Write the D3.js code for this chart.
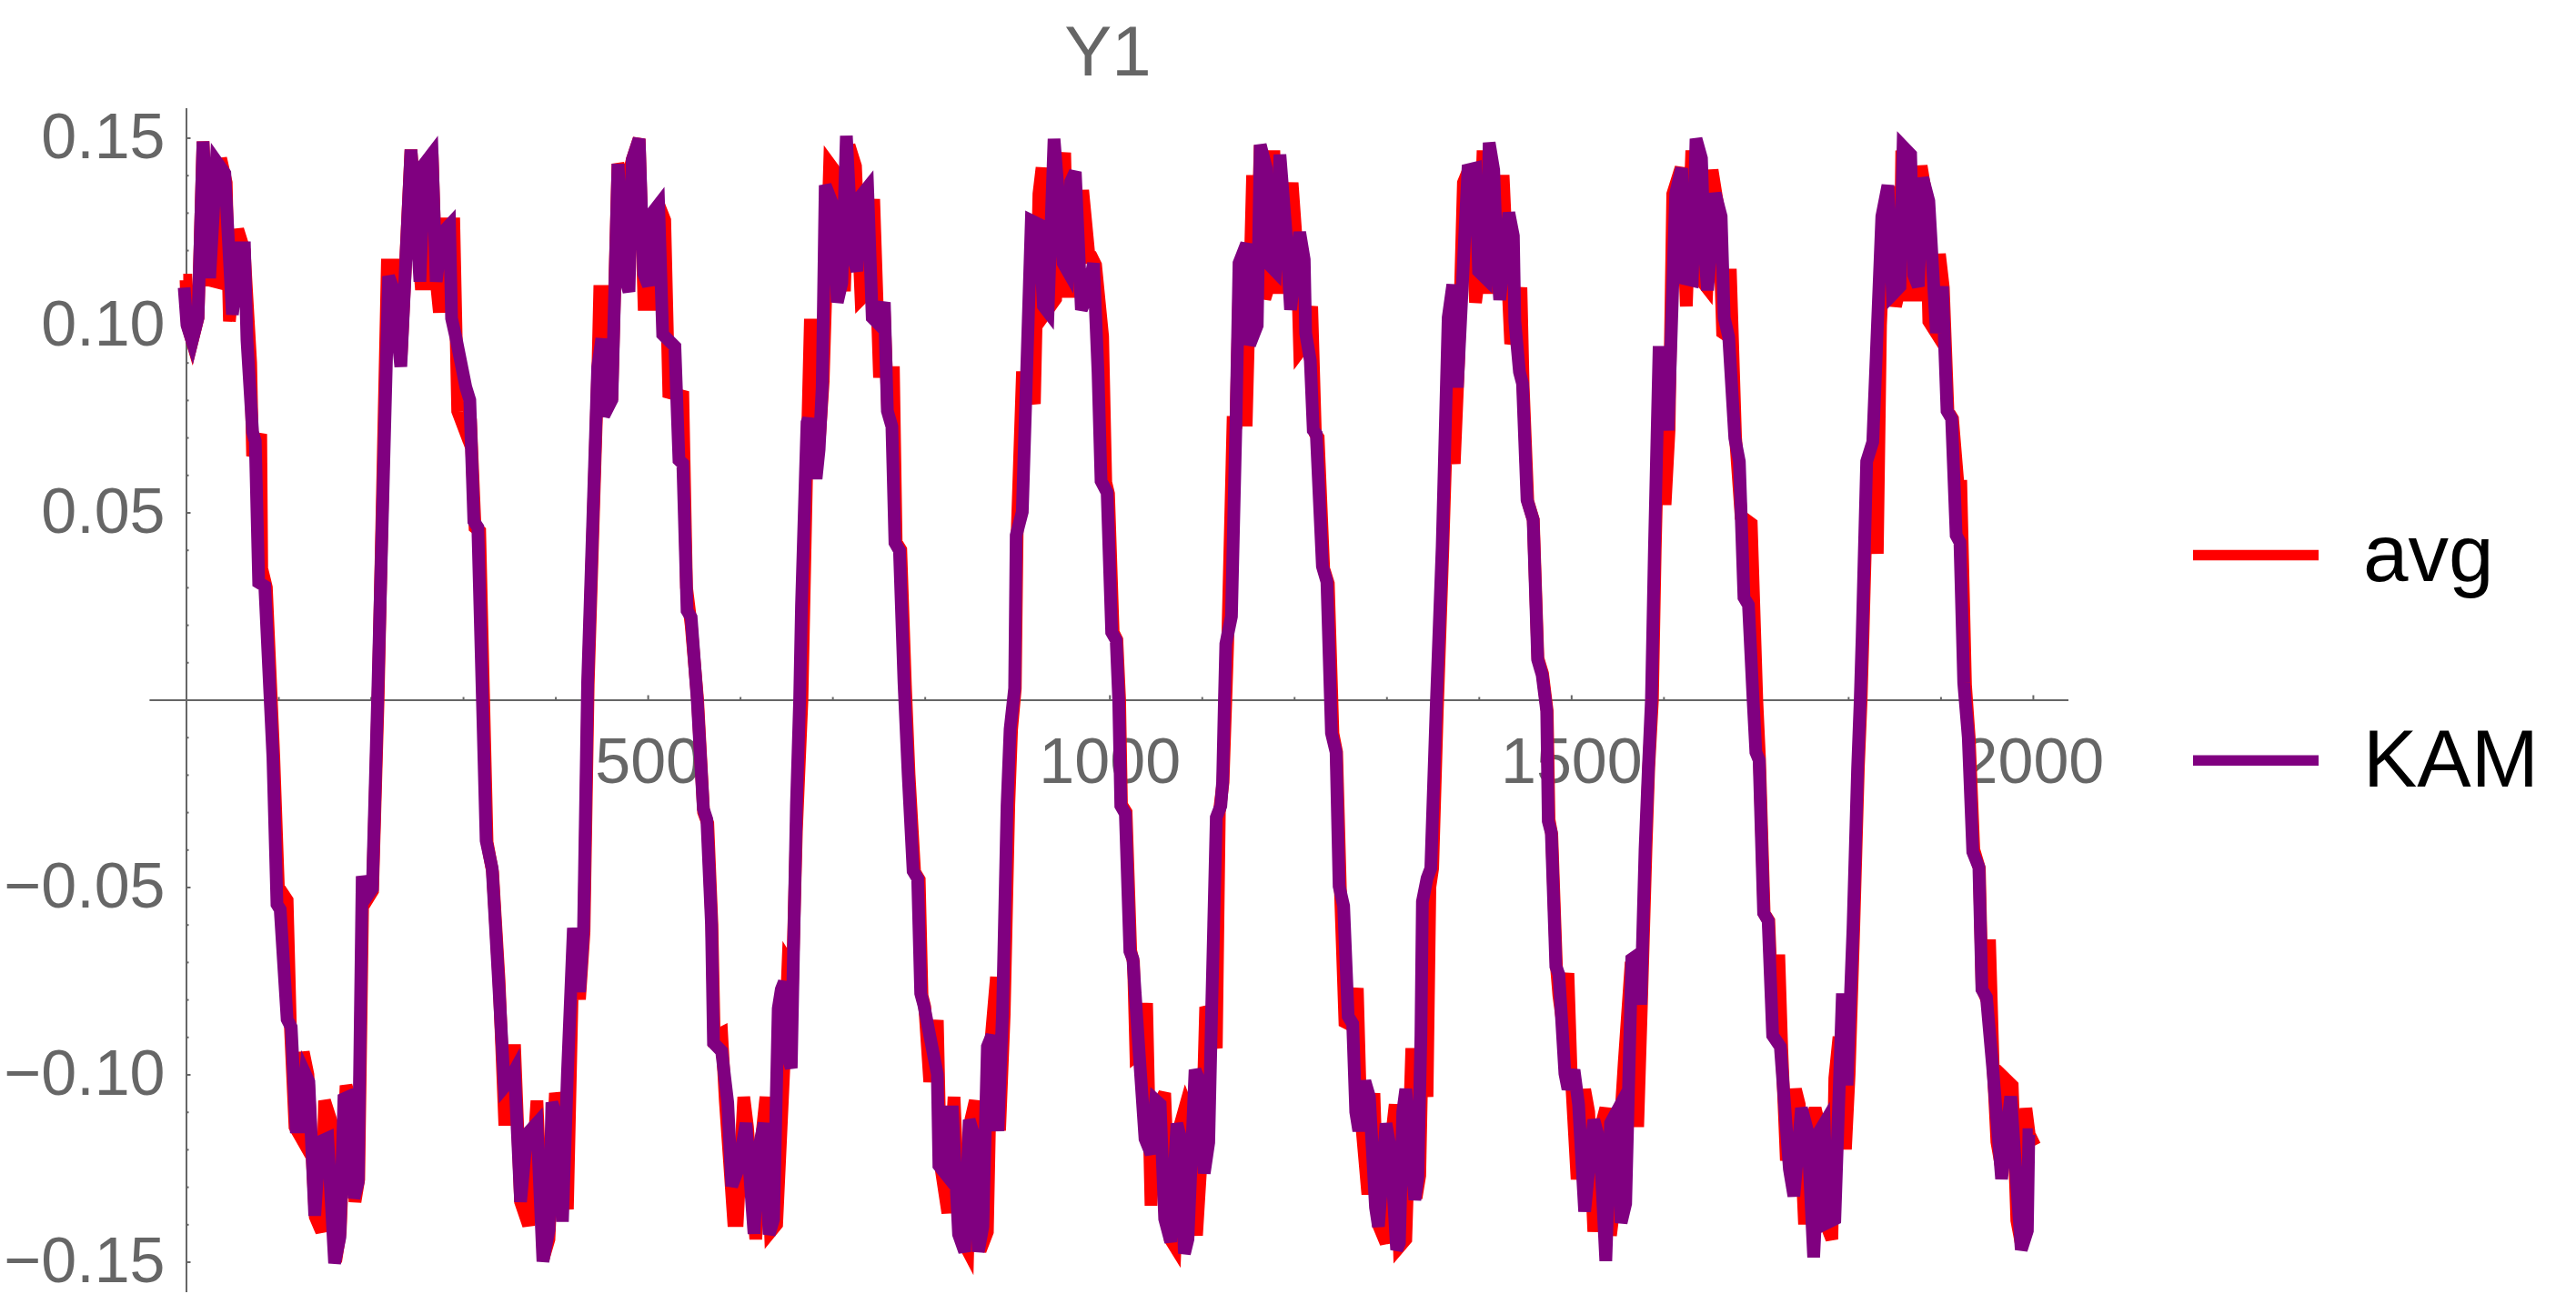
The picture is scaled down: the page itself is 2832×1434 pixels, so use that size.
<!DOCTYPE html>
<html><head><meta charset="utf-8">
<script src="https://cdn.jsdelivr.net/npm/d3@7"></script>
<style>
body{margin:0;background:#fff}
svg{display:block}
text{font-family:"Liberation Sans",Arial,Helvetica,sans-serif}
</style>
</head><body>
<svg id="chart" width="2832" height="1434"></svg>
<script>
const chartTitle = "Y1";
const seriesNames = ["avg", "KAM"];
const seriesColors = ["#ff0000", "#800080"];
const xMajorTicks = [500, 1000, 1500, 2000];
const xMinorTicks = [100,200,300,400,600,700,800,900,1100,1200,1300,1400,1600,1700,1800,1900];
const yMajorTicks = [-0.15, -0.10, -0.05, 0.05, 0.10, 0.15];
const yMinorTicks = [-0.14,-0.13,-0.12,-0.11,-0.09,-0.08,-0.07,-0.06,-0.04,-0.03,-0.02,-0.01,
                     0.01,0.02,0.03,0.04,0.06,0.07,0.08,0.09,0.11,0.12,0.13,0.14];

// avg series: [x, value]
const avgPoints = [
[-3,0.112],[0,0.112],[1.5,0.100],[6.6,0.0957],[13,0.102],[18.4,0.149],[25,0.112],[33,0.1115],[37.5,0.1445],[43.5,0.138],[47,0.101],[56,0.1255],[63,0.120],[70,0.090],[72.1,0.065],[80.9,0.0709],[82,0.035],[87,0.030],[95,-0.015],[100,-0.050],[109.5,-0.0535],[113,-0.087],[118,-0.114],[124.9,-0.117],[127,-0.094],[132,-0.100],[140,-0.138],[146.9,-0.142],[150,-0.107],[157.9,-0.113],[162,-0.150],[167,-0.142],[173.3,-0.103],[177,-0.106],[183,-0.134],[187,-0.128],[191.5,-0.050],[197,-0.053],[202,-0.051],[208,0.000],
[218,0.116],[228.2,0.116],[233,0.092],[243.6,0.1468],[250.2,0.125],[254.5,0.111],[261,0.111],[266.5,0.1457],[270.9,0.112],[274.4,0.1034],[281,0.127],[290,0.127],[294.2,0.077],[305,0.070],[308,0.075],[313,0.046],[318,0.045],[322,0.003],
[326,-0.038],[332,-0.046],[339,-0.075],[345,-0.112],[351,-0.112],[355.7,-0.092],[362.3,-0.134],[371,-0.1403],[380,-0.107],[387,-0.149],[393,-0.144],[400,-0.105],[405,-0.110],[413,-0.136],[419.5,-0.063],[426.1,-0.080],[431,-0.062],[435.5,0.004],
[446,0.088],[448,0.109],[457,0.109],[461,0.080],[467.8,0.143],[472,0.140],[479,0.140],[483.2,0.1441],[490.7,0.1497],[496,0.1055],[505,0.1055],[512,0.132],[518.4,0.128],[522.8,0.082],[538,0.081],[542,0.030],[547,0.020],[554,0.000],
[560.5,-0.030],[565,-0.033],[569.5,-0.060],[572,-0.090],[580,-0.089],[584,-0.107],[593,-0.139],[597,-0.139],[604,-0.106],[608,-0.114],[617,-0.144],[622,-0.120],[628,-0.106],[633,-0.142],[639.6,-0.140],[648,-0.095],[652,-0.070],[657,-0.072],[661,-0.035],[667,0.000],
[672,0.060],[676,0.100],[682,0.100],[686,0.070],[690,0.085],[697,0.143],[706,0.140],[713,0.109],[718,0.148],[725,0.1424],[731,0.107],[735,0.108],[744.7,0.1336],[751,0.086],[756,0.104],[760,0.077],[766,0.089],[769,0.042],[774,0.040],[779,0.004],
[783,-0.020],[789,-0.046],[794,-0.048],[797,-0.079],[800,-0.082],[805.4,-0.102],[813.6,-0.0855],[817,-0.124],[825,-0.137],[831.7,-0.106],[838,-0.143],[846.5,-0.147],[850,-0.112],[854.7,-0.107],[860,-0.147],[867.8,-0.142],[872,-0.090],[877.6,-0.074],[881,-0.115],[886,-0.084],[891,-0.028],[894,-0.008],[898,0.003],
[900,0.044],[905.6,0.086],[912,0.086],[918.7,0.079],[923.6,0.135],[927,0.142],[933,0.104],[941.7,0.107],[945,0.134],[951.5,0.146],[955,0.109],[963,0.109],[971,0.136],[978,0.118],[981,0.118],[985,0.116],[992.6,0.097],[996,0.058],[999,0.055],[1004,0.018],[1008,0.016],[1011,0.000],
[1013,-0.028],[1018,-0.030],[1023,-0.067],[1026,-0.070],[1028.7,-0.095],[1034,-0.094],[1040.2,-0.081],[1045,-0.135],[1050,-0.110],[1059.8,-0.105],[1066,-0.144],[1071,-0.146],[1076,-0.114],[1082.8,-0.108],[1086,-0.110],[1094.3,-0.143],[1100,-0.120],[1104.2,-0.082],[1110,-0.085],[1115.7,-0.093],[1119,-0.030],[1123,-0.022],[1126,0.000],
[1128,0.015],[1133.8,0.074],[1137,0.074],[1141,0.116],[1143,0.117],[1148,0.073],[1155,0.140],[1160,0.120],[1163.3,0.148],[1168.2,0.107],[1172,0.110],[1178,0.1466],[1183,0.110],[1188,0.110],[1197.8,0.138],[1203,0.120],[1206,0.093],[1212,0.095],[1219,0.105],[1223,0.071],[1226,0.070],[1232,0.035],[1237,0.031],[1242,-0.009],
[1246,-0.014],[1250,-0.050],[1255,-0.086],[1263,-0.087],[1268.4,-0.077],[1272,-0.110],[1279.8,-0.132],[1286.4,-0.105],[1291,-0.140],[1299.5,-0.145],[1304,-0.120],[1309.4,-0.108],[1314,-0.146],[1320.9,-0.144],[1327.4,-0.093],[1332,-0.133],[1336,-0.127],[1339,-0.090],[1343.9,-0.106],[1347,-0.050],[1350,-0.045],[1355,-0.003],
[1361,0.040],[1366,0.080],[1373.4,0.063],[1378,0.090],[1383.3,0.138],[1390,0.142],[1396.4,0.106],[1400,0.113],[1404.6,0.1466],[1409,0.110],[1416,0.110],[1420,0.118],[1426.3,0.140],[1434.5,0.095],[1440,0.100],[1445.6,0.110],[1448,0.084],[1453,0.053],[1459,0.048],[1464,0.011],[1469,0.007],[1474,-0.003],
[1476,-0.032],[1479,-0.036],[1484,-0.071],[1486.7,-0.079],[1490,-0.085],[1496.5,-0.073],[1500,-0.100],[1506.4,-0.128],[1514.6,-0.104],[1519,-0.110],[1524.5,-0.142],[1531,-0.115],[1537.5,-0.109],[1542.6,-0.143],[1549,-0.130],[1557.4,-0.097],[1565,-0.070],[1572,-0.114],[1576,-0.082],[1581,-0.040],[1584,-0.018],[1588,0.000],
[1591,0.040],[1596,0.092],[1600,0.090],[1601.7,0.052],[1606,0.072],[1610,0.135],[1619,0.142],[1624.7,0.105],[1630.6,0.1466],[1639.4,0.1124],[1647,0.110],[1652.6,0.1414],[1660,0.130],[1664,0.098],[1670,0.097],[1672.3,0.115],[1678,0.070],[1684,0.049],[1695,0.047],[1701,0.000],[1704,-0.016],
[1709,-0.057],[1714,-0.059],[1719,-0.090],[1724.8,-0.068],[1728,-0.093],[1733,-0.123],[1742.9,-0.104],[1747,-0.108],[1752.7,-0.140],[1757,-0.116],[1764.2,-0.109],[1770,-0.115],[1776,-0.140],[1782.3,-0.144],[1785.5,-0.101],[1790,-0.090],[1797,-0.120],[1801,-0.100],[1806,-0.061],[1811,-0.018],[1814,0.000],
[1816,0.017],[1821,0.063],[1826,0.068],[1831.5,0.039],[1835,0.100],[1840,0.130],[1844,0.137],[1851.2,0.105],[1856,0.110],[1858,0.1466],[1866,0.108],[1874,0.108],[1879,0.1425],[1884,0.135],[1887.3,0.101],[1895,0.098],[1898.8,0.119],[1903,0.110],[1908,0.077],[1913,0.075],[1919,0.057],[1922,0.057],[1927,0.004],
[1931,-0.010],[1936,-0.040],[1942,-0.045],[1945,-0.077],[1950,-0.080],[1953,-0.064],[1957,-0.098],[1961,-0.118],[1966,-0.125],[1969.4,-0.101],[1977.6,-0.103],[1982.6,-0.139],[1988,-0.146],[1992.4,-0.109],[1996,-0.116],[2002,-0.119]
];

// KAM series: [x, value]
const kamPoints = [
[-2,0.110],[1,0.100],[6.6,0.0957],[13,0.102],[18.4,0.149],[25.6,0.1125],[32.8,0.1437],[42,0.1405],[50.2,0.1028],[58.4,0.1206],[63.3,0.1206],[66,0.096],[72.1,0.0714],[75,0.069],[78.7,0.0313],[85.3,0.0303],[94.1,-0.0154],[98.5,-0.0546],[102,-0.056],[109.5,-0.0853],[113.9,-0.0874],[119.2,-0.114],[124,-0.114],[129.3,-0.100],[133,-0.102],[139.4,-0.1377],[144.7,-0.118],[153.5,-0.117],[160.9,-0.1504],[166.6,-0.1435],[171,-0.1065],[175.5,-0.106],[182,-0.133],[186.4,-0.1287],[190.8,-0.0471],[196,-0.0524],[201.8,-0.0504],[207.5,0.0005],
[219.4,0.113],[224,0.110],[232.6,0.0889],[243.6,0.1468],[250.2,0.1246],[253.3,0.1116],[258.1,0.143],[266.5,0.1457],[270.9,0.1116],[277.5,0.1246],[285.4,0.1267],[287.6,0.1018],[292,0.097],[303,0.0834],[307.3,0.080],[311.7,0.0476],[316,0.046],[320.5,0.0043],
[325,-0.0376],[331.5,-0.045],[338.1,-0.0736],[344.7,-0.1033],[349,-0.102],[355.7,-0.099],[362.3,-0.134],[369,-0.116],[380,-0.113],[386.5,-0.1499],[393.1,-0.1414],[396.2,-0.1075],[401.9,-0.1117],[407.6,-0.1393],[413,-0.100],[419.5,-0.0609],[426.1,-0.078],[430.5,-0.0609],[434.9,0.0047],
[445.8,0.0888],[450.3,0.0964],[452.4,0.0758],[461.2,0.0801],[467.8,0.143],[474.4,0.1137],[479.7,0.1089],[483.2,0.1441],[490.7,0.1497],[495.5,0.1137],[500.8,0.1105],[505.2,0.130],[511.8,0.1321],[516.2,0.0975],[529.4,0.0943],[533.8,0.064],[538,0.063],[542.6,0.0238],[547,0.022],[553.6,0.000],
[560.2,-0.0291],[564,-0.032],[569,-0.0599],[571.2,-0.0916],[580,-0.0938],[586.6,-0.1075],[591,-0.1298],[597.5,-0.1255],[606.4,-0.113],[615.1,-0.1425],[620,-0.120],[626,-0.113],[631.4,-0.1427],[636.3,-0.1386],[641.3,-0.0824],[644.6,-0.0773],[647.8,-0.0753],[651.1,-0.0947],[655.4,-0.0983],[657.7,-0.0692],[661,-0.0283],[664.5,0.000],
[666.5,0.025],[670.8,0.0605],[672.5,0.074],[674.1,0.075],[682.3,0.059],[685.6,0.0668],[688.9,0.0833],[692.2,0.1373],[700.4,0.1321],[705.3,0.1061],[710.2,0.1113],[715.1,0.1505],[721.7,0.1186],[726.6,0.1144],[729.9,0.1342],[738.1,0.1367],[743.1,0.102],[749.6,0.1004],[756.2,0.1061],[759.5,0.0771],[764.4,0.0729],[767.7,0.0419],[772.6,0.0398],[777.5,0.0045],
[782,-0.020],[787.4,-0.0457],[792.3,-0.0477],[795.6,-0.0784],[798.9,-0.0814],[813.6,-0.100],[815.3,-0.1243],[821.8,-0.1263],[823.5,-0.110],[830,-0.110],[836.6,-0.1427],[843.2,-0.1473],[848.1,-0.1121],[853,-0.1161],[858,-0.1473],[862.9,-0.1406],[867.8,-0.0926],[872.7,-0.0896],[879.3,-0.1151],[884.2,-0.0835],[889.1,-0.0283],[892.4,-0.0079],[897.3,0.003],
[899,0.0439],[905.6,0.0501],[910,0.085],[915.4,0.1279],[923.6,0.1269],[928.5,0.1051],[933.5,0.1035],[940,0.1497],[945,0.1342],[949.9,0.1165],[954.8,0.1144],[958.1,0.1383],[963,0.1409],[969.6,0.1041],[976,0.108],[982.7,0.1165],[987.6,0.0875],[990.9,0.0584],[997.5,0.0553],[1002.4,0.018],[1007.3,0.0159],[1010,0.000],
[1012.3,-0.0283],[1017.2,-0.0304],[1022.1,-0.0671],[1025.4,-0.0692],[1032,-0.0937],[1038.5,-0.1172],[1045.1,-0.1212],[1050,-0.1069],[1054.9,-0.108],[1059.8,-0.1386],[1066.4,-0.1447],[1073,-0.1131],[1076,-0.116],[1081.2,-0.1478],[1085,-0.144],[1092.7,-0.0988],[1097.6,-0.1018],[1102.6,-0.1264],[1107.5,-0.1182],[1110.8,-0.0814],[1115.7,-0.0314],[1120.6,-0.0283],[1122.5,-0.022],[1124.5,0.000],
[1126,0.0149],[1132.1,0.0222],[1137,0.074],[1140.3,0.1165],[1148.5,0.1217],[1151.8,0.0947],[1160,0.0999],[1163.3,0.1481],[1169.9,0.1419],[1171.5,0.1165],[1179.7,0.1144],[1184.6,0.1455],[1191.2,0.1248],[1196.1,0.1041],[1206,0.1248],[1210.9,0.1175],[1212.5,0.0978],[1217.5,0.0906],[1220.7,0.0719],[1224,0.0709],[1230.6,0.0356],[1235.5,0.0315],[1240.4,-0.0089],
[1245.4,-0.014],[1248.7,-0.0498],[1253.6,-0.055],[1258.5,-0.0845],[1263.4,-0.0865],[1266.7,-0.110],[1270,-0.1151],[1276.6,-0.1018],[1281.5,-0.1059],[1288.1,-0.1355],[1291.3,-0.1406],[1299.5,-0.1131],[1304.5,-0.1202],[1311,-0.1468],[1314,-0.145],[1317.6,-0.110],[1320.9,-0.1039],[1330.7,-0.1335],[1334,-0.1274],[1337.3,-0.0896],[1338.9,-0.0539],[1343.9,-0.0477],[1348,-0.045],[1353.7,-0.0028],
[1360.3,0.0408],[1366.8,0.102],[1371.8,0.1108],[1376.7,0.0833],[1382,0.110],[1388.2,0.1414],[1396.4,0.1419],[1399.7,0.1144],[1407.9,0.1124],[1411.2,0.1487],[1416.1,0.1414],[1419.4,0.1186],[1422.6,0.1067],[1432.5,0.130],[1437.4,0.1238],[1439,0.101],[1444,0.0875],[1447.3,0.0844],[1452.2,0.0533],[1458.8,0.0481],[1463.7,0.0107],[1468.6,0.0066],[1473.5,-0.003],
[1475.2,-0.0324],[1478.5,-0.0355],[1483.4,-0.0712],[1486.7,-0.0733],[1493.2,-0.0998],[1496.5,-0.1039],[1503.1,-0.0988],[1508,-0.108],[1514.6,-0.1366],[1524.5,-0.1121],[1531,-0.118],[1537.5,-0.1498],[1542.6,-0.113],[1549.2,-0.110],[1554.1,-0.1396],[1559,-0.1345],[1565.6,-0.0692],[1572.1,-0.0681],[1575.4,-0.0814],[1580,-0.040],[1583.6,-0.0181],[1586.9,0.000],
[1590.2,0.0408],[1595.1,0.0927],[1600,0.0927],[1605,0.0719],[1613.2,0.1352],[1619.7,0.1419],[1623,0.1124],[1631.2,0.1119],[1635.2,0.1497],[1641.1,0.1445],[1644.4,0.1196],[1647.7,0.1093],[1655.9,0.1352],[1662.4,0.129],[1665.7,0.102],[1670.6,0.0968],[1677.2,0.0698],[1682.1,0.0636],[1687.1,0.0273],[1692,0.0253],[1697,0.000],[1700,-0.014],
[1703.5,-0.0161],[1708.4,-0.0569],[1713.3,-0.059],[1718.2,-0.0896],[1726.5,-0.0926],[1736.3,-0.1253],[1741.2,-0.1325],[1749.4,-0.109],[1756,-0.1151],[1762.6,-0.1488],[1769.1,-0.1151],[1774,-0.1131],[1777.3,-0.1396],[1785.5,-0.1386],[1793.7,-0.0784],[1798.7,-0.1029],[1805.2,-0.061],[1810.2,-0.0181],[1813,0.000],
[1815.1,0.017],[1820,0.0636],[1826.6,0.0688],[1836.4,0.129],[1843,0.1373],[1847.9,0.1082],[1856,0.1103],[1859.4,0.1476],[1867.6,0.1455],[1870.9,0.1134],[1875.9,0.1103],[1880.7,0.1393],[1887.3,0.1331],[1895.5,0.0979],[1902.1,0.1103],[1907,0.0771],[1912,0.075],[1916.9,0.0439],[1921,0.042],[1925.1,0.0045],
[1930,-0.010],[1934.9,-0.0406],[1941.5,-0.0447],[1944.8,-0.0773],[1949.7,-0.0794],[1956.3,-0.0977],[1966.1,-0.1279],[1976,-0.1059],[1987.4,-0.1468],[1994,-0.1417],[1995.6,-0.1161],[1999.9,-0.1161]
];

const seriesData = [avgPoints, kamPoints];

const svg = d3.select("#chart");
svg.append("rect").attr("width", 2832).attr("height", 1434).attr("fill", "#fff");

const x = d3.scaleLinear().domain([-40, 2038]).range([163.9, 2273.5]);
const y = d3.scaleLinear().domain([-0.158, 0.158]).range([1420.5, 118.5]);

const axisColor = "#666666";
const labelSize = 70;

function styleAxis(g) {
  g.attr("font-size", null).attr("font-family", null);
  g.selectAll("path.domain").attr("stroke", axisColor).attr("stroke-width", 2);
  g.selectAll(".tick line").attr("stroke", axisColor).attr("stroke-width", 2);
  g.selectAll(".tick text").attr("fill", axisColor).style("font-size", labelSize + "px");
}

// x axis
const gx = svg.append("g").attr("transform", `translate(0,${y(0)})`)
  .call(d3.axisBottom(x).tickValues(xMajorTicks).tickSize(-5).tickSizeOuter(0)
        .tickPadding(42).tickFormat(d3.format("d")));
styleAxis(gx);
const gxm = svg.append("g").attr("transform", `translate(0,${y(0)})`)
  .call(d3.axisBottom(x).tickValues(xMinorTicks).tickSize(-3).tickSizeOuter(0).tickFormat(""));
styleAxis(gxm);
gxm.select("path.domain").remove();

// y axis
const gy = svg.append("g").attr("transform", `translate(${x(0)},0)`)
  .call(d3.axisLeft(y).tickValues(yMajorTicks).tickSize(-5).tickSizeOuter(0)
        .tickPadding(23).tickFormat(d3.format(".2f")));
styleAxis(gy);
const gym = svg.append("g").attr("transform", `translate(${x(0)},0)`)
  .call(d3.axisLeft(y).tickValues(yMinorTicks).tickSize(-3).tickSizeOuter(0).tickFormat(""));
styleAxis(gym);
gym.select("path.domain").remove();

// lines
const line = d3.line().x(d => x(d[0])).y(d => y(d[1]));
seriesData.forEach((pts, i) => {
  svg.append("path").datum(pts)
    .attr("d", line)
    .attr("fill", "none")
    .attr("stroke", seriesColors[i])
    .attr("stroke-width", 14)
    .attr("stroke-linejoin", "miter")
    .attr("stroke-linecap", "butt");
});

// title
svg.append("text").attr("x", 1218).attr("y", 83).attr("text-anchor", "middle")
  .attr("fill", axisColor).style("font-size", "78px").text(chartTitle);

// legend
const legendY = [610.6, 836.3];
seriesNames.forEach((name, i) => {
  svg.append("line").attr("x1", 2411).attr("x2", 2549)
    .attr("y1", legendY[i]).attr("y2", legendY[i])
    .attr("stroke", seriesColors[i]).attr("stroke-width", 11.5);
  svg.append("text").attr("x", 2598).attr("y", legendY[i] + 28.5)
    .attr("fill", "#000").style("font-size", "89px").text(name);
});
</script>
</body></html>
